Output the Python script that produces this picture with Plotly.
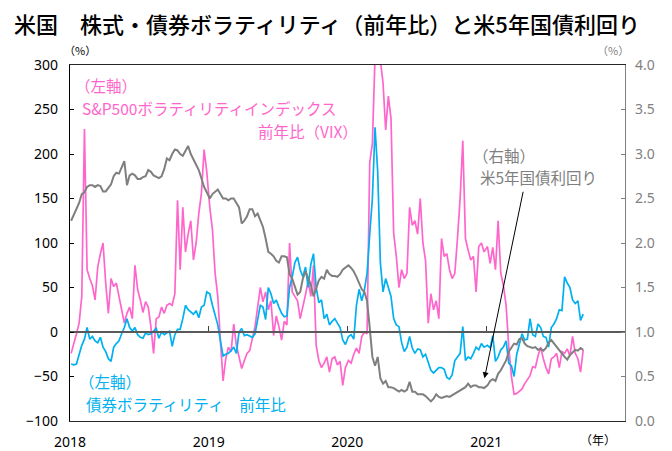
import pandas as pd
import plotly.graph_objects as go

# ---------------- data (weekly readings, starting first week of each year) ----------------
YEARS = [2018, 2019, 2020, 2021]

# S&P500 volatility index (VIX), YoY %  (left axis)
vix_2018 = [-24, -14, -2, 10, 40, 228, 70, 60, 52, 36, 73, 88, 100, 55, 21, 60, 51, 55, 38, 25,
            10, 21, 28, 15, 75, 48, 36, 22, 34, 28, 6, -24, 15, 17, 28, 21, 30, 32, 30, 43,
            148, 70, 140, 90, 110, 125, 81, 100, 133, 156, 205, 180]
vix_2019 = [140, 115, 66, 40, -10, -55, -30, -17, -22, 9, -15, -30, -41, -32, -24, -21, -8, 6, 28, 50,
            34, 45, 25, 35, -4, 18, 6, -9, 12, 8, 100, 45, 40, 35, 15, 27, 42, 58, 40, 75,
            -15, -32, -40, -35, -28, -45, -30, -28, -37, -33, -60, -40]
vix_2020 = [-32, -35, -25, -18, -24, -5, 0, -2, 190, 212, 310, 320, 305, 280, 227, 265, 240, 111, 85, 50,
            70, 60, 66, 140, 120, 125, 110, 150, 100, 80, 10, 43, 25, 35, 15, 105, 85, 88, 70, 60,
            66, 105, 150, 215, 105, 92, 81, 85, 45, 96, 100, 90]
vix_2021 = [96, 77, 95, 70, 125, 66, 52, 30, -17, -50, -70, -69, -66, -64, -58, -53, -49, -39, -40, -27,
            -17, -30, -40, -47, -30, -28, -24, -40, -22, -24, -19, -27, -5, -24, -30, -45, -20]

# Bond volatility, YoY %  (left axis)
bond_2018 = [-36, -37, -36, -25, -15, -8, 5, -8, -5, -10, -12, -6, -17, -22, -30, -33, -17, -13, -10, -2,
             5, 15, 5, 1, 5, -3, -6, -7, -1, -3, -2, 1, 4, -7, 0, -3, -1, 1, -16, -3,
             3, 3, 15, 30, 25, 22, 20, 24, 16, 28, 30, 45]
bond_2019 = [43, 30, 18, 8, -10, -27, -25, -24, -21, -17, -24, 0, 4, -4, -3, -5, -6, -2, 13, 30,
             28, 14, 50, 43, 32, 36, 28, 21, 17, 18, 50, 62, 78, 84, 70, 62, 73, 50, 76, 88,
             50, 33, 36, 15, 20, 8, 12, 15, 10, 5, -9, -14]
bond_2020 = [-5, -3, -8, 30, 48, 35, 47, 66, 110, 150, 230, 180, 78, 45, 60, 50, 40, 15, 8, 6,
             -12, -22, -17, -5, -18, -24, -19, -20, -28, -25, -33, -43, -46, -43, -40, -40, -42, -51, -53, -48,
             -32, -28, -24, 6, -32, -28, -30, -24, -17, -20, -13, -17]
bond_2021 = [-15, -18, -4, -33, -28, -20, -17, -10, -35, -38, -50, -25, -14, -2, -9, -8, 15, -3, -5, 9,
             5, -5, -6, -17, 5, 9, 15, 25, 24, 62, 55, 50, 36, 32, 35, 13, 20]

# US 5-year Treasury yield, %  (right axis)
ust5_2018 = [2.25, 2.32, 2.38, 2.45, 2.55, 2.57, 2.63, 2.65, 2.65, 2.63, 2.65, 2.64, 2.58, 2.58, 2.62, 2.66, 2.75, 2.79, 2.78, 2.85,
             2.92, 2.65, 2.76, 2.78, 2.76, 2.72, 2.72, 2.74, 2.75, 2.82, 2.80, 2.76, 2.74, 2.73, 2.75, 2.83, 2.95, 2.93, 3.00, 3.05,
             3.04, 3.00, 2.98, 3.03, 3.09, 3.00, 2.93, 2.88, 2.82, 2.72, 2.63, 2.57]
ust5_2019 = [2.50, 2.55, 2.57, 2.60, 2.55, 2.50, 2.50, 2.48, 2.50, 2.50, 2.45, 2.40, 2.22, 2.25, 2.30, 2.38, 2.38, 2.30, 2.33, 2.25,
             2.18, 2.05, 1.90, 1.88, 1.85, 1.80, 1.78, 1.85, 1.85, 1.84, 1.65, 1.60, 1.50, 1.42, 1.45, 1.60, 1.68, 1.60, 1.53, 1.40,
             1.50, 1.58, 1.62, 1.60, 1.70, 1.65, 1.63, 1.63, 1.62, 1.65, 1.70, 1.72]
ust5_2020 = [1.75, 1.72, 1.68, 1.62, 1.55, 1.48, 1.45, 1.35, 1.05, 0.72, 0.62, 0.72, 0.48, 0.42, 0.45, 0.38, 0.38, 0.37, 0.35, 0.33,
             0.35, 0.33, 0.35, 0.44, 0.33, 0.33, 0.30, 0.30, 0.30, 0.28, 0.25, 0.22, 0.25, 0.30, 0.27, 0.26, 0.27, 0.28, 0.27, 0.29,
             0.30, 0.33, 0.35, 0.37, 0.38, 0.42, 0.38, 0.40, 0.40, 0.38, 0.38, 0.37]
ust5_2021 = [0.40, 0.45, 0.47, 0.45, 0.53, 0.57, 0.62, 0.68, 0.78, 0.82, 0.87, 0.86, 0.92, 0.93, 0.87, 0.84, 0.83, 0.82, 0.83, 0.80,
             0.81, 0.79, 0.82, 0.88, 0.91, 0.87, 0.83, 0.80, 0.76, 0.72, 0.69, 0.74, 0.77, 0.80, 0.79, 0.82, 0.80]

x_tick_labels = ["2018", "2019", "2020", "2021"]
left_ticks = [-100, -50, 0, 50, 100, 150, 200, 250, 300]
right_ticks = [0.0, 0.5, 1.0, 1.5, 2.0, 2.5, 3.0, 3.5, 4.0]

# ---------------- helpers ----------------
def series(per_year):
    xs, ys = [], []
    for yr, vals in zip(YEARS, per_year):
        xs += list(pd.date_range(f"{yr}-01-04", periods=len(vals), freq="7D"))
        ys += list(vals)
    return xs, ys

vix_x, vix_y = series([vix_2018, vix_2019, vix_2020, vix_2021])
bond_x, bond_y = series([bond_2018, bond_2019, bond_2020, bond_2021])
ust_x, ust_y = series([ust5_2018, ust5_2019, ust5_2020, ust5_2021])

PINK = "#FF66CC"
CYAN = "#00B0F0"
GRAY = "#7F7F7F"
JP = "Noto Sans CJK JP"
NUM = "Noto Sans"

# the page places the figure 8px in from the top-left corner
OFF = 8
W, H = 672 - OFF, 451 - OFF
L, R, T, B = 70 - OFF, 625 - OFF, 65 - OFF, 421 - OFF

def px(x):
    return (x - OFF - L) / (R - L)

def py(y):
    return (B - (y - OFF)) / (B - T)

year_starts = [pd.Timestamp(f"{y}-01-01") for y in YEARS]
x_range = [pd.Timestamp("2018-01-01"), pd.Timestamp("2022-01-01")]

fig = go.Figure()
fig.add_trace(go.Scatter(x=vix_x, y=vix_y, mode="lines", line=dict(color=PINK, width=1.7),
                         name="VIX", yaxis="y", xaxis="x"))
fig.add_trace(go.Scatter(x=bond_x, y=bond_y, mode="lines", line=dict(color=CYAN, width=1.7),
                         name="bond", yaxis="y", xaxis="x"))
fig.add_trace(go.Scatter(x=ust_x, y=ust_y, mode="lines", line=dict(color=GRAY, width=2),
                         name="UST5", yaxis="y2", xaxis="x"))
# carrier for the zero-level axis (ticks on the 0 line)
fig.add_trace(go.Scatter(x=[x_range[0]], y=[None], mode="lines", xaxis="x2", yaxis="y",
                         showlegend=False, hoverinfo="skip"))

annotations = [
    dict(text="（左軸）", x=px(73), y=py(85), color=PINK),
    dict(text="S&P500ボラティリティインデックス", x=px(80), y=py(108), color=PINK),
    dict(text="前年比（VIX）", x=px(256), y=py(131), color=PINK),
    dict(text="（右軸）", x=px(471), y=py(155), color=GRAY),
    dict(text="米5年国債利回り", x=px(478), y=py(177), color=GRAY),
    dict(text="（左軸）", x=px(77), y=py(381), color=CYAN),
    dict(text="債券ボラティリティ　前年比", x=px(84), y=py(404), color=CYAN),
]
ann = []
for a in annotations:
    ann.append(dict(text=a["text"], x=a["x"], y=a["y"], xref="paper", yref="paper",
                    xanchor="left", yanchor="middle", showarrow=False,
                    font=dict(family=JP, size=15.5, color=a["color"])))
# unit labels
ann.append(dict(text="（%）", x=px(80), y=py(50), xref="paper", yref="paper", showarrow=False,
                xanchor="center", yanchor="middle", font=dict(family=JP, size=11, color="#000000")))
ann.append(dict(text="（%）", x=px(613), y=py(50), xref="paper", yref="paper", showarrow=False,
                xanchor="center", yanchor="middle", font=dict(family=JP, size=11, color=GRAY)))
ann.append(dict(text="（年）", x=px(598), y=py(439), xref="paper", yref="paper", showarrow=False,
                xanchor="center", yanchor="middle", font=dict(family=JP, size=12, color="#000000")))
# arrow pointing at the yield line
ann.append(dict(text="", x=pd.Timestamp("2020-12-27"), y=0.48, xref="x", yref="y2",
                showarrow=True, ax=39, ay=-188, axref="pixel", ayref="pixel",
                arrowhead=2, arrowsize=1.2, arrowwidth=1, arrowcolor="#000000"))

fig.update_layout(
    width=W, height=H,
    margin=dict(l=L, r=W - R, t=T, b=H - B, autoexpand=False),
    paper_bgcolor="white", plot_bgcolor="white",
    showlegend=False,
    title=dict(text="米国　株式・債券ボラティリティ（前年比）と米5年国債利回り",
               x=(14 - OFF) / W, xanchor="left", y=1 - (25 - OFF) / H, yanchor="middle",
               xref="container", yref="container",
               font=dict(family=JP, size=22, color="#000000", weight=500)),
    xaxis=dict(type="date", range=x_range, tickvals=year_starts, ticktext=x_tick_labels,
               ticks="", showline=True, linecolor="#262626", linewidth=1.3, mirror=True,
               showgrid=False, zeroline=False, automargin=False,
               tickfont=dict(family=NUM, size=14, color="#000000"), ticklabelstandoff=8),
    xaxis2=dict(type="date", range=x_range, overlaying="x", anchor="free", position=0.25,
                side="bottom", tickvals=year_starts[1:] + [x_range[1]], ticks="inside",
                ticklen=5, tickcolor="#404040", showticklabels=False, showline=True,
                linecolor="#595959", linewidth=1.6, showgrid=False, zeroline=False,
                automargin=False),
    yaxis=dict(range=[-100, 300], tickvals=left_ticks, ticks="inside", ticklen=4,
               tickcolor="#000000", showline=True, linecolor="#000000", linewidth=1.3,
               showgrid=False, zeroline=False, automargin=False, ticklabelstandoff=8,
               tickfont=dict(family=NUM, size=14, color="#000000")),
    yaxis2=dict(range=[0, 4], tickvals=right_ticks, tickformat=".1f", overlaying="y",
                side="right", ticks="inside", ticklen=4, tickcolor=GRAY, showline=True,
                linecolor=GRAY, linewidth=1.3, showgrid=False, zeroline=False,
                automargin=False, ticklabelstandoff=6,
                tickfont=dict(family=NUM, size=14, color=GRAY)),
    annotations=ann,
)

fig.write_html("out.html")
